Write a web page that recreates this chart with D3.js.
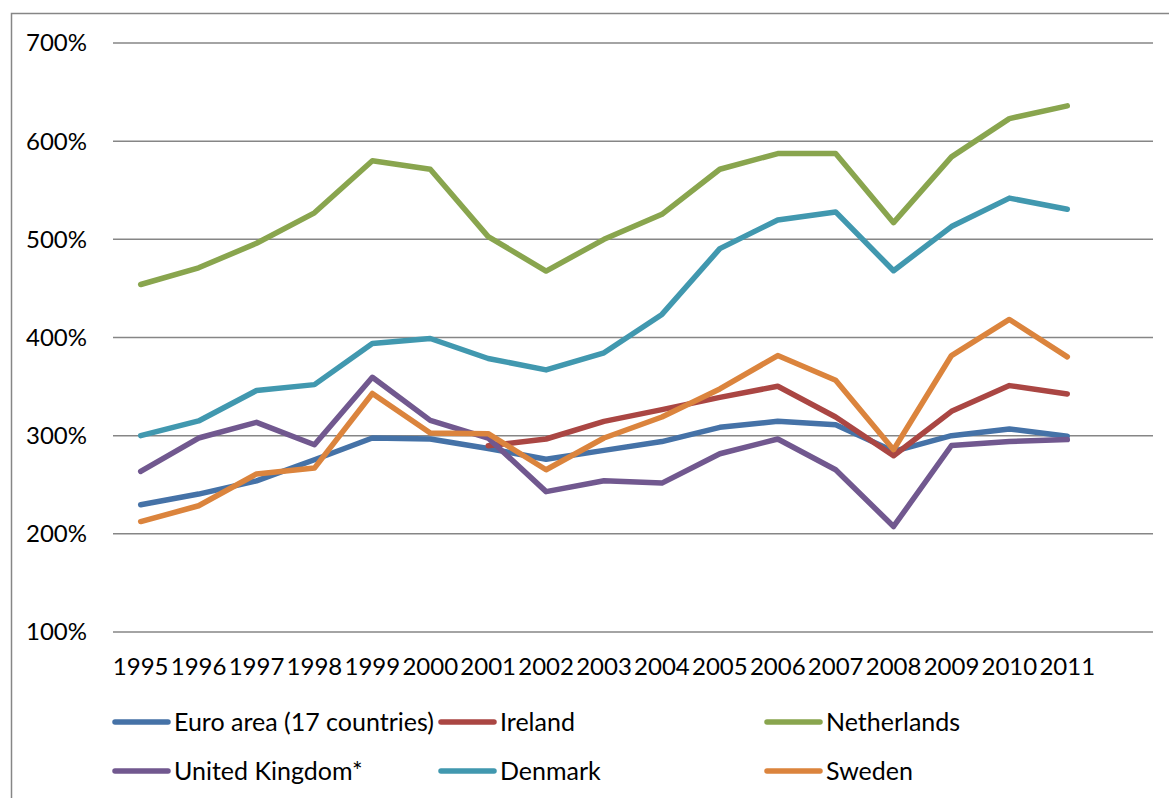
<!DOCTYPE html>
<html lang="en">
<head>
	<meta charset="utf-8">
	<title>Chart</title>
	<script src="https://d3js.org/d3.v7.min.js"></script>
	<style>
		body { margin: 0; background: #fff; }
		text { font-family: Lato, "Open Sans", sans-serif; fill: #000; }
	</style>
</head>
<body>
	<div id="chart"></div>
	<script>
		// data (percent)
		let years = ["1995","1996","1997","1998","1999","2000","2001","2002","2003",
			"2004","2005","2006","2007","2008","2009","2010","2011"];
		let yTicks = [100, 200, 300, 400, 500, 600, 700];

		let euroArea = [229.6, 240.5, 254, 275.5, 297.6, 296.6, 287, 276, 285, 294, 308.5, 314.6, 311, 284, 300, 306.8, 299.5];
		let ireland = [null, null, null, null, null, null, 289.8, 296.6, 314.6, 326.5, 339, 350.3, 319, 279.6, 324.8, 351, 342.5];
		let netherlands = [454, 471, 496, 527, 580, 571.4, 502.8, 467.7, 500, 525.5, 571.4, 587.4, 587.4, 517, 584, 623, 636];
		let unitedKingdom = [263.6, 297.6, 313.6, 290.8, 359.5, 315.6, 297.6, 243, 254, 251.7, 281.6, 296.6, 265.3, 207.5, 290, 294, 296];
		let denmark = [300, 315, 346, 352, 394, 399, 378.6, 367, 384.4, 423.5, 490.5, 519.7, 527.9, 468, 513, 542, 530.6];
		let sweden = [212.5, 228.6, 261, 267, 343, 302.7, 302, 265.3, 297.6, 319, 347.6, 381.6, 356.5, 285.7, 381.6, 418.4, 380.3];

		let series = [
			{ name: "Euro area (17 countries)", values: euroArea, color: "#4572A7" },
			{ name: "Ireland", values: ireland, color: "#AA4643" },
			{ name: "Netherlands", values: netherlands, color: "#89A54E" },
			{ name: "United Kingdom*", values: unitedKingdom, color: "#71588F" },
			{ name: "Denmark", values: denmark, color: "#4198AF" },
			{ name: "Sweden", values: sweden, color: "#DB843D" }
		];

		let width = 1169;
		let height = 798;

		let svg = d3.select("#chart")
			.append("svg")
			.attr("width", width)
			.attr("height", height);

		// chart area border
		svg.append("rect")
			.attr("x", 11.5)
			.attr("y", 13.5)
			.attr("width", 1200)
			.attr("height", 900)
			.attr("fill", "none")
			.attr("stroke", "#868686")
			.attr("stroke-width", 1.5);

		let x = d3.scalePoint()
			.domain(years)
			.range([140.7, 1067.3]);

		let y = d3.scaleLinear()
			.domain([100, 700])
			.range([632, 43]);

		// horizontal gridlines
		svg.append("g")
			.selectAll("line")
			.data(yTicks)
			.enter()
			.append("line")
			.attr("x1", 113)
			.attr("x2", 1153)
			.attr("y1", d => y(d))
			.attr("y2", d => y(d))
			.attr("stroke", "#868686")
			.attr("stroke-width", 1.5);

		// Y axis labels
		svg.append("g")
			.selectAll("text")
			.data(yTicks)
			.enter()
			.append("text")
			.attr("x", 87)
			.attr("y", d => y(d))
			.attr("dy", "0.35em")
			.attr("text-anchor", "end")
			.style("font-size", "24px")
			.text(d => d + "%");

		// X axis labels
		svg.append("g")
			.selectAll("text")
			.data(years)
			.enter()
			.append("text")
			.attr("x", d => x(d))
			.attr("y", 675)
			.attr("text-anchor", "middle")
			.style("font-size", "24px")
			.text(d => d);

		// lines
		let line = d3.line()
			.defined(d => d != null)
			.x((d, i) => x(years[i]))
			.y(d => y(d));

		svg.append("g")
			.selectAll("path")
			.data(series)
			.enter()
			.append("path")
			.attr("fill", "none")
			.attr("stroke", d => d.color)
			.attr("stroke-width", 5.5)
			.attr("stroke-linejoin", "round")
			.attr("stroke-linecap", "round")
			.attr("d", d => line(d.values));

		// legend, 3 columns x 2 rows
		let colX = [115, 441, 767];
		let rowY = [722, 771];
		let legend = svg.append("g")
			.selectAll("g")
			.data(series)
			.enter()
			.append("g")
			.attr("transform", (d, i) => `translate(${colX[i % 3]},${rowY[Math.floor(i / 3)]})`);

		legend.append("line")
			.attr("x1", 0)
			.attr("x2", 53)
			.attr("stroke", d => d.color)
			.attr("stroke-width", 5.5)
			.attr("stroke-linecap", "round");

		legend.append("text")
			.attr("x", 59)
			.attr("dy", "0.35em")
			.style("font-size", "25px")
			.text(d => d.name);
	</script>
</body>
</html>
